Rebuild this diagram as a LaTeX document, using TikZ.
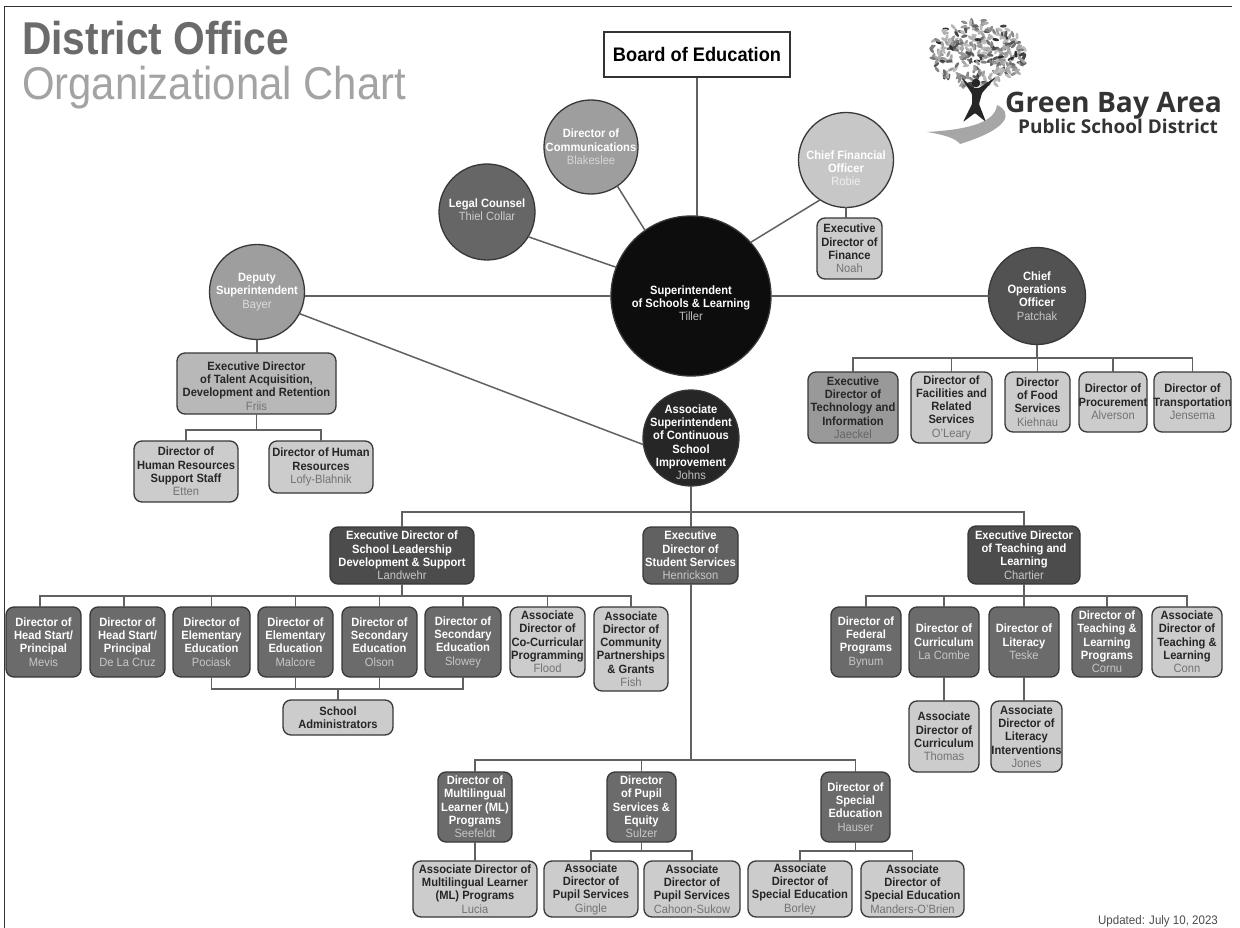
\documentclass[tikz,border=0pt]{standalone}
\usepackage{fontspec}
\setmainfont{Liberation Sans}[FakeStretch=0.93]
\newfontfamily\headfont{Liberation Sans}[FakeStretch=0.885]
\newfontfamily\chartfont{Liberation Sans}[FakeStretch=0.91]
\newfontfamily\logofont{Open Sans}
\usetikzlibrary{calc}
\colorlet{whotext}{black}
\def\who#1{{\mdseries\color{whotext}#1}}
\tikzset{
	tone/.style n args={3}{fill=#1,text=#2,execute at begin node={\colorlet{whotext}{#3}}},
	orgshape/.style={draw=black!78,line width=1.3pt,inner sep=0pt,outer sep=0pt},
	orgtext/.style={fill=none,draw=none,align=center,inner sep=0pt,font=\fontsize{12}{13.3}\selectfont\bfseries},
	wire/.style={draw=black!62,line width=1.5pt},
	tonepale/.style={tone={black!20}{black!85}{black!55}},
	tonedir/.style={tone={black!58}{white}{black!22}},
	tonehead/.style={tone={black!70}{white}{black!22}}
}
\def\orgbox[#1](#2)(#3,#4,#5,#6)#7{
	\node[orgshape,rectangle,rounded corners=8pt,#1,minimum width=#5-#3,minimum height=#6-#4] (#2) at ({(#3+#5)/2},{(#4+#6)/2}) {};
	\node[#1,orgtext] (#2-t) at (#2) {#7};
}
\def\orgcircle[#1](#2)(#3,#4,#5)#6{
	\node[orgshape,circle,#1,minimum size=2*#5] (#2) at (#3,#4) {};
	\node[#1,orgtext] (#2-t) at (#2) {#6};
}

\begin{document}
\begin{tikzpicture}[x=1pt,y=-1pt]
			\useasboundingbox (0,0) rectangle (1240,928);
			\fill[white] (0,0) rectangle (1240,928);
			\draw[black!80,line width=1.1pt] (4.3,928) -- (4.3,6.8) -- (1232,6.8);

			%%%%% HEADING AND LOGO %%%%%

			\node[anchor=base west,inner sep=0pt,text=black!58,font=\fontsize{46}{46}\headfont\bfseries] (heading) at (22,55) {District Office};
			\node[anchor=base west,inner sep=0pt,text=black!36,font=\fontsize{46}{46}\chartfont] (subheading) at (22,100) {Organizational Chart};

			\pgfmathsetseed{41}
			\foreach \i in {1,...,300}{
				\pgfmathsetmacro\leafang{rnd*360}
				\pgfmathsetmacro\leafrad{sqrt(rnd)}
				\pgfmathsetmacro\leafrot{rnd*180}
				\pgfmathsetmacro\leaftone{25+rnd*rnd*70}
				\fill[black!\leaftone,shift={({978+48*\leafrad*cos(\leafang)},{54+34*\leafrad*sin(\leafang)})},rotate=\leafrot] (0,0) ellipse (3.4 and 1.5);
			}
			\fill[black!85,rounded corners=1pt] (961,77) -- (973,88) -- (979,88) -- (996,77) -- (982,93) -- (979,104) -- (986,122) -- (975,113) -- (963,122) -- (972,104) -- (972,94) -- cycle;
			\fill[black!85] (976,83) circle (4.3);
			\fill[black!35] (927,132) .. controls (960,130) and (995,125) .. (997,105) .. controls (1012,112) and (1012,128) .. (960,144) .. controls (955,138) and (945,135) .. (927,132) -- cycle;
			\node[anchor=base west,inner sep=0pt,text=black!80,font=\fontsize{28.2}{29}\logofont\bfseries] (logoname) at (1005,113) {Green Bay Area};
			\node[anchor=base west,inner sep=0pt,text=black!80,font=\fontsize{19}{19}\logofont\bfseries] (logosub) at (1018,134) {Public School District};

			%%%%% TOP OF THE CHART %%%%%

			\node[draw=black!80,line width=1.2pt,minimum width=186,minimum height=45,inner sep=0pt,font=\fontsize{19.6}{21}\selectfont\bfseries] (board) at (697,54.5) {Board of Education};

			\orgcircle[tone={black!95}{white}{black!25}](super)(691,296,80){\mbox{}\\[10pt]Superintendent\\of Schools \& Learning\\\who{Tiller}}
			\orgcircle[tone={black!38}{white}{black!16}](comms)(591,147,47){Director of\\Communications\\\who{Blakeslee}}
			\orgcircle[tone={black!60}{white}{black!20}](legal)(487,212,48){Legal Counsel\\\who{Thiel Collar}\\[-8.3pt]\mbox{}}
			\orgcircle[tone={black!22}{white}{black!6}](cfo)(846,160,47.5){\mbox{}\\[12pt]Chief Financial\\Officer\\\who{Robie}}
			\orgcircle[tone={black!38}{white}{black!14}](deputy)(257,292,47.5){Deputy\\Superintendent\\\who{Bayer}}
			\orgcircle[tone={black!68}{white}{black!22}](coo)(1037,296,48.5){Chief\\Operations\\Officer\\\who{Patchak}}
			\orgcircle[tone={black!85}{white}{black!25}](assoc)(691,438,48){\mbox{}\\[4pt]Associate\\Superintendent\\of Continuous\\School\\Improvement\\\who{Johns}}

			\orgbox[tonepale](finance)(817,218,882,279){Executive\\Director of\\Finance\\\who{Noah}}

			\draw[wire] (board.south) -- (board.south |- super.north);
			\draw[wire] (comms.-56) -- (super.125);
			\draw[wire] (legal.-31) -- (super.159);
			\draw[wire] (cfo.237) -- (super.42);
			\draw[wire] (cfo.south) -- (finance.north -| cfo.south);
			\draw[wire] (deputy.east |- super.west) -- (super.west);
			\draw[wire] (super.east) -- (coo.west);
			\draw[wire] (deputy.-27) -- (assoc.188);

			%%%%% DEPUTY %%%%%

			\orgbox[tone={black!28}{black!85}{black!55}](talent)(177,353,336,414){\mbox{}\\Executive Director\\of Talent Acquisition,\\Development and Retention\\\who{Friis}}
			\orgbox[tonepale](hrstaff)(134,441,238,502){Director of\\Human Resources\\Support Staff\\\who{Etten}}
			\orgbox[tonepale](hrlofy)(269,441,373,493){Director of Human\\Resources\\\who{Lofy-Blahnik}}

			\coordinate (talentbus) at (talent.south |- 0,430);
			\draw[wire] (deputy.south) -- (talent.north -| deputy.south);
			\draw[wire] (talent.south) -- (talentbus);
			\draw[wire] (hrstaff.north) |- (talentbus);
			\draw[wire] (hrlofy.north) |- (talentbus);

			%%%%% OPERATIONS %%%%%

			\orgbox[tone={black!40}{black!85}{black!60}](tech)(808,372,898,443){Executive\\Director of\\Technology and\\Information\\\who{Jaeckel}}
			\orgbox[tonepale](facilities)(911,372,992,443){Director of\\Facilities and\\Related\\Services\\\who{O'Leary}}
			\orgbox[tonepale](food)(1005,372,1070,432){Director\\of Food\\Services\\\who{Kiehnau}}
			\orgbox[tonepale](procure)(1079,372,1147,432){Director of\\Procurement\\\who{Alverson}}
			\orgbox[tonepale](transport)(1154,372,1231,432){Director of\\Transportation\\\who{Jensema}}

			\coordinate (opsbus) at (coo.south |- 0,358);
			\draw[wire] (coo.south) -- (opsbus);
			\foreach \n in {tech,facilities,food,procure,transport}
				\draw[wire] (\n.north) |- (opsbus);

			%%%%% EXECUTIVE DIRECTORS %%%%%

			\orgbox[tonehead](leadership)(330,527,474,584){Executive Director of\\School Leadership\\Development \& Support\\\who{Landwehr}}
			\orgbox[tone={black!62}{white}{black!22}](student)(643,527,738,584){Executive\\Director of\\Student Services\\\who{Henrickson}}
			\orgbox[tonehead](teaching)(968,526,1080,584){Executive Director\\of Teaching and\\Learning\\\who{Chartier}}

			\coordinate (assocbus) at (assoc.south |- 0,512);
			\draw[wire] (assoc.south) -- (student.north -| assoc.south);
			\draw[wire] (leadership.north) |- (assocbus);
			\draw[wire] (teaching.north) |- (assocbus);

			%%%%% SCHOOL LEADERSHIP %%%%%

			\orgbox[tonedir](headmevis)(6,607,81,677){Director of\\Head Start/\\Principal\\\who{Mevis}}
			\orgbox[tonedir](headcruz)(90,607,165,677){Director of\\Head Start/\\Principal\\\who{De La Cruz}}
			\orgbox[tonedir](elempociask)(173,607,250,677){Director of\\Elementary\\Education\\\who{Pociask}}
			\orgbox[tonedir](elemmalcore)(258,607,333,677){Director of\\Elementary\\Education\\\who{Malcore}}
			\orgbox[tonedir](secolson)(342,607,417,677){Director of\\Secondary\\Education\\\who{Olson}}
			\orgbox[tonedir](secslowey)(425,607,501,677){Director of\\Secondary\\Education\\\who{Slowey}}
			\orgbox[tonepale](cocurr)(510,607,585,677){Associate\\Director of\\Co-Curricular\\Programming\\\who{Flood}}
			\orgbox[tonepale](community)(594,607,668,691){Associate\\Director of\\Community\\Partnerships\\\& Grants\\\who{Fish}}
			\orgbox[tonepale](schooladmin)(283,700,393,735){School\\Administrators}

			\coordinate (leadbus) at (leadership.south |- 0,596);
			\coordinate (adminbus) at (schooladmin.north |- 0,689);
			\draw[wire] (leadership.south) -- (leadbus);
			\foreach \n in {headmevis,headcruz}
				\draw[wire] ([xshift=-3.5]\n.north) |- (leadbus);
			\foreach \n in {elempociask,elemmalcore,secolson,secslowey,cocurr,community}
				\draw[wire] (\n.north) |- (leadbus);
			\draw[wire] (schooladmin.north) -- (adminbus);
			\foreach \n in {elempociask,elemmalcore,secolson,secslowey}
				\draw[wire] (\n.south) |- (adminbus);

			%%%%% STUDENT SERVICES %%%%%

			\orgbox[tonedir](mldir)(438,772,512,842){Director of\\Multilingual\\Learner (ML)\\Programs\\\who{Seefeldt}}
			\orgbox[tonedir](pupildir)(607,772,676,842){Director\\of Pupil\\Services \&\\Equity\\\who{Sulzer}}
			\orgbox[tonedir](specialdir)(821,772,890,842){Director of\\Special\\Education\\\who{Hauser}}
			\orgbox[tonepale](mlassoc)(413,861,537,917){Associate Director of\\Multilingual Learner\\(ML) Programs\\\who{Lucia}}
			\orgbox[tonepale](pupilgingle)(544,861,638,917){Associate\\Director of\\Pupil Services\\\who{Gingle}}
			\orgbox[tonepale](pupilcahoon)(644,861,740,917){Associate\\Director of\\Pupil Services\\\who{Cahoon-Sukow}}
			\orgbox[tonepale](specialborley)(748,861,852,917){Associate\\Director of\\Special Education\\\who{Borley}}
			\orgbox[tonepale](specialmanders)(861,861,964,917){Associate\\Director of\\Special Education\\\who{Manders-O'Brien}}

			\coordinate (studentbus) at (assoc.south |- 0,760);
			\coordinate (pupilbus) at (pupildir.south |- 0,851);
			\coordinate (specialbus) at (specialdir.south |- 0,851);
			\draw[wire] (student.south -| assoc.south) -- (studentbus);
			\foreach \n in {mldir,pupildir,specialdir}
				\draw[wire] (\n.north) |- (studentbus);
			\draw[wire] (mldir.south) -- (mlassoc.north -| mldir.south);
			\draw[wire] (pupildir.south) -- (pupilbus);
			\draw[wire] (specialdir.south) -- (specialbus);
			\foreach \n in {pupilgingle,pupilcahoon}
				\draw[wire] (\n.north) |- (pupilbus);
			\foreach \n in {specialborley,specialmanders}
				\draw[wire] (\n.north) |- (specialbus);

			%%%%% TEACHING AND LEARNING %%%%%

			\orgbox[tonedir](federal)(831,607,901,677){Director of\\Federal\\Programs\\\who{Bynum}}
			\orgbox[tonedir](curriculum)(909,607,979,677){Director of\\Curriculum\\\who{La Combe}}
			\orgbox[tonedir](literacy)(989,607,1059,677){Director of\\Literacy\\\who{Teske}}
			\orgbox[tonedir](tlprograms)(1072,607,1142,677){Director of\\Teaching \&\\Learning\\Programs\\\who{Cornu}}
			\orgbox[tonepale](tlassoc)(1152,607,1222,677){Associate\\Director of\\Teaching \&\\Learning\\\who{Conn}}
			\orgbox[tonepale](currassoc)(909,701,979,772){Associate\\Director of\\Curriculum\\\who{Thomas}}
			\orgbox[tonepale](litassoc)(991,701,1062,772){Associate\\Director of\\Literacy\\Interventions\\\who{Jones}}

			\coordinate (teachbus) at (teaching.south |- 0,596);
			\draw[wire] (teaching.south) -- (teachbus);
			\foreach \n in {federal,curriculum,literacy,tlprograms,tlassoc}
				\draw[wire] (\n.north) |- (teachbus);
			\draw[wire] (curriculum.south) -- (currassoc.north);
			\draw[wire] (literacy.south) -- (litassoc.north -| literacy.south);

			\node[inner sep=0pt,text=black!70,font=\fontsize{12.4}{13}\selectfont] (updated) at (1158,921) {Updated: July 10, 2023};
		\end{tikzpicture}
\end{document}
